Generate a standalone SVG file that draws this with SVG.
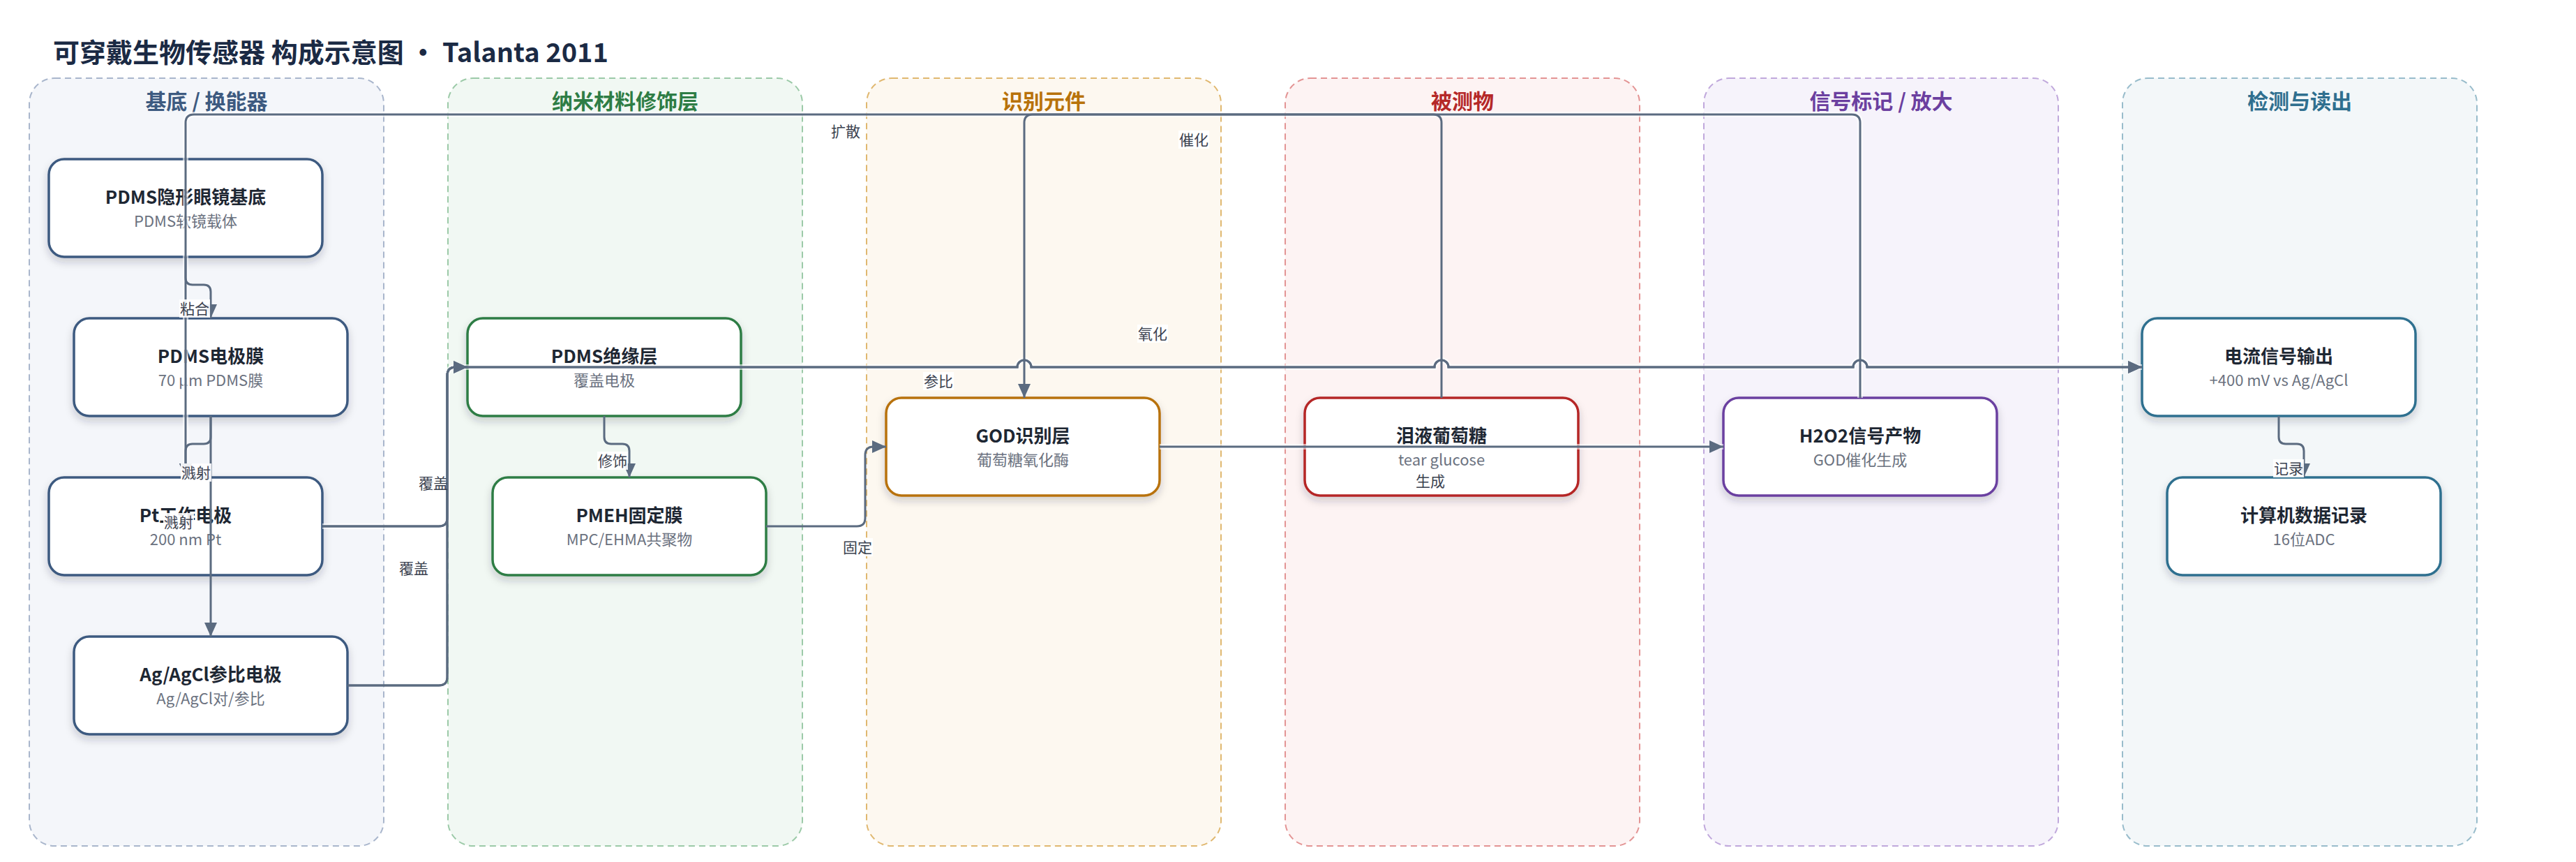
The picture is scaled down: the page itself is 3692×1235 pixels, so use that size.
<svg xmlns="http://www.w3.org/2000/svg" width="3692" height="1235" viewBox="0 0 3692 1235">
<style>
text{font-family:"Noto Sans CJK SC","Noto Sans",sans-serif}
.title{font-size:38px;font-weight:700;fill:#1b2a44}
.lane{stroke-width:2;stroke-dasharray:9 6}
.lt{font-size:30px;font-weight:700;text-anchor:middle}
.node{fill:#fff;stroke-width:3.5;filter:url(#sh)}
.nt{font-size:26px;font-weight:700;fill:#1e2733;text-anchor:middle}
.ns{font-size:22px;fill:#6b7280;text-anchor:middle}
.halo{fill:none;stroke:#fff;stroke-width:8;stroke-opacity:.6}
.edge{fill:none;stroke:#5b6b80;stroke-width:3}
.arr{marker-end:url(#ah)}
.lb{fill:#fff;fill-opacity:.9}
.el{font-size:21px;fill:#3b4250;text-anchor:middle}
</style>
<defs>
<filter id="sh" x="-20%" y="-20%" width="140%" height="150%">
<feDropShadow dx="0" dy="6" stdDeviation="6" flood-color="#1e293b" flood-opacity="0.2"/>
</filter>
<marker id="ah" markerUnits="userSpaceOnUse" markerWidth="22" markerHeight="18" refX="20" refY="9" orient="auto">
<path d="M0,0 L20,9 L0,18 z" fill="#5b6b80"/>
</marker>
</defs>
<rect width="3692" height="1235" fill="#fff"/>
<text class="title" x="76" y="89">可穿戴生物传感器 构成示意图 · Talanta 2011</text>

<g id="lanes">
<g id="lane-substrate"><rect class="lane" x="42" y="112" width="508" height="1100" rx="36" fill="#f4f6fa" stroke="#a9b6cc"/><text class="lt" x="296" y="156" fill="#3d5a80">基底 / 换能器</text></g>
<g id="lane-nano"><rect class="lane" x="642" y="112" width="508" height="1100" rx="36" fill="#f1f8f3" stroke="#9ccaa8"/><text class="lt" x="896" y="156" fill="#2e7d45">纳米材料修饰层</text></g>
<g id="lane-recog"><rect class="lane" x="1242" y="112" width="508" height="1100" rx="36" fill="#fdf8f0" stroke="#e0b870"/><text class="lt" x="1496" y="156" fill="#b8720a">识别元件</text></g>
<g id="lane-analyte"><rect class="lane" x="1842" y="112" width="508" height="1100" rx="36" fill="#fdf3f3" stroke="#e39494"/><text class="lt" x="2096" y="156" fill="#b52828">被测物</text></g>
<g id="lane-signal"><rect class="lane" x="2442" y="112" width="508" height="1100" rx="36" fill="#f6f3fb" stroke="#c0a8dc"/><text class="lt" x="2696" y="156" fill="#6b3fa0">信号标记 / 放大</text></g>
<g id="lane-readout"><rect class="lane" x="3042" y="112" width="508" height="1100" rx="36" fill="#f3f7f9" stroke="#98bccb"/><text class="lt" x="3296" y="156" fill="#2f6f8f">检测与读出</text></g>
</g>

<g id="n1"><rect class="node" x="70" y="228" width="392" height="140" rx="22" stroke="#3d5a80"/><text class="nt" x="266" y="292">PDMS隐形眼镜基底</text><text class="ns" x="266" y="325">PDMS软镜载体</text></g>
<g id="n2"><rect class="node" x="106" y="456" width="392" height="140" rx="22" stroke="#3d5a80"/><text class="nt" x="302" y="520">PDMS电极膜</text><text class="ns" x="302" y="553">70 μm PDMS膜</text></g>
<g id="n3"><rect class="node" x="70" y="684" width="392" height="140" rx="22" stroke="#3d5a80"/><text class="nt" x="266" y="748">Pt工作电极</text><text class="ns" x="266" y="781">200 nm Pt</text></g>
<g id="n4"><rect class="node" x="106" y="912" width="392" height="140" rx="22" stroke="#3d5a80"/><text class="nt" x="302" y="976">Ag/AgCl参比电极</text><text class="ns" x="302" y="1009">Ag/AgCl对/参比</text></g>
<g id="n5"><rect class="node" x="670" y="456" width="392" height="140" rx="22" stroke="#2e7d45"/><text class="nt" x="866" y="520">PDMS绝缘层</text><text class="ns" x="866" y="553">覆盖电极</text></g>
<g id="n6"><rect class="node" x="706" y="684" width="392" height="140" rx="22" stroke="#2e7d45"/><text class="nt" x="902" y="748">PMEH固定膜</text><text class="ns" x="902" y="781">MPC/EHMA共聚物</text></g>
<g id="n7"><rect class="node" x="1270" y="570" width="392" height="140" rx="22" stroke="#b8720a"/><text class="nt" x="1466" y="634">GOD识别层</text><text class="ns" x="1466" y="667">葡萄糖氧化酶</text></g>
<g id="n8"><rect class="node" x="1870" y="570" width="392" height="140" rx="22" stroke="#b52828"/><text class="nt" x="2066" y="634">泪液葡萄糖</text><text class="ns" x="2066" y="667">tear glucose</text></g>
<g id="n9"><rect class="node" x="2470" y="570" width="392" height="140" rx="22" stroke="#6b3fa0"/><text class="nt" x="2666" y="634">H2O2信号产物</text><text class="ns" x="2666" y="667">GOD催化生成</text></g>
<g id="n10"><rect class="node" x="3070" y="456" width="392" height="140" rx="22" stroke="#2f6f8f"/><text class="nt" x="3266" y="520">电流信号输出</text><text class="ns" x="3266" y="553">+400 mV vs Ag/AgCl</text></g>
<g id="n11"><rect class="node" x="3106" y="684" width="392" height="140" rx="22" stroke="#2f6f8f"/><text class="nt" x="3302" y="748">计算机数据记录</text><text class="ns" x="3302" y="781">16位ADC</text></g>

<g id="connectors">
<path class="halo" d="M2666 570 V176 Q2666 164 2654 164 H278 Q266 164 266 176 V684"/>
<path class="halo" d="M462 754 H629 Q641 754 641 742 V538 Q641 526 653 526 H1458 A10 10 0 0 1 1478 526 H2056 A10 10 0 0 1 2076 526 H2656 A10 10 0 0 1 2676 526 H3070"/>
<path class="halo" d="M1662 640 H2470"/>
<path class="edge arr" d="M266 368 V398 Q266 408 276 408 H292 Q302 408 302 418 V456"/>
<path class="edge arr" d="M302 596 V626 Q302 636 292 636 H276 Q266 636 266 646 V684"/>
<path class="edge arr" d="M302 596 V912"/>
<path class="edge arr" d="M462 754 H629 Q641 754 641 742 V538 Q641 526 653 526 H670"/>
<path class="edge arr" d="M498 982 H629 Q641 982 641 970 V538 Q641 526 653 526 H670"/>
<path class="edge arr" d="M866 596 V626 Q866 636 876 636 H892 Q902 636 902 646 V684"/>
<path class="edge arr" d="M1098 754 H1228 Q1240 754 1240 742 V652 Q1240 640 1252 640 H1270"/>
<path class="edge arr" d="M2066 570 V176 Q2066 164 2054 164 H1480 Q1468 164 1468 176 V570"/>
<path class="edge arr" d="M1662 640 H2470"/>
<path class="edge arr" d="M2666 570 V176 Q2666 164 2654 164 H278 Q266 164 266 176 V684"/>
<path class="edge arr" d="M462 754 H629 Q641 754 641 742 V538 Q641 526 653 526 H1458 A10 10 0 0 1 1478 526 H2056 A10 10 0 0 1 2076 526 H2656 A10 10 0 0 1 2676 526 H3070"/>
<path class="edge arr" d="M498 982 H629 Q641 982 641 970 V538 Q641 526 653 526 H1458 A10 10 0 0 1 1478 526 H2056 A10 10 0 0 1 2076 526 H2656 A10 10 0 0 1 2676 526 H3070"/>
<path class="edge arr" d="M3266 596 V626 Q3266 636 3276 636 H3292 Q3302 636 3302 646 V684"/>
<g id="edge-labels">
<rect class="lb" x="257" y="429" width="44" height="26"/><text class="el" x="279" y="450">粘合</text>
<rect class="lb" x="259" y="664" width="44" height="26"/><text class="el" x="281" y="685">溅射</text>
<rect class="lb" x="234" y="735" width="44" height="26" fill-opacity="0.75"/><text class="el" x="256" y="756">溅射</text>
<rect class="lb" x="856" y="647" width="44" height="26"/><text class="el" x="878" y="668">修饰</text>
<text class="el" x="621" y="700">覆盖</text>
<text class="el" x="593" y="822">覆盖</text>
<rect class="lb" x="1207" y="771" width="44" height="26"/><text class="el" x="1229" y="792">固定</text>
<rect class="lb" x="1323" y="533" width="44" height="26"/><text class="el" x="1345" y="554">参比</text>
<rect class="lb" x="1630" y="465" width="44" height="26"/><text class="el" x="1652" y="486">氧化</text>
<text class="el" x="1212" y="196">扩散</text>
<rect class="lb" x="1689" y="187" width="44" height="26"/><text class="el" x="1711" y="208">催化</text>
<text class="el" x="2050" y="697">生成</text>
<rect class="lb" x="3258" y="658" width="44" height="26"/><text class="el" x="3280" y="679">记录</text>
</g>
</g>
</svg>
